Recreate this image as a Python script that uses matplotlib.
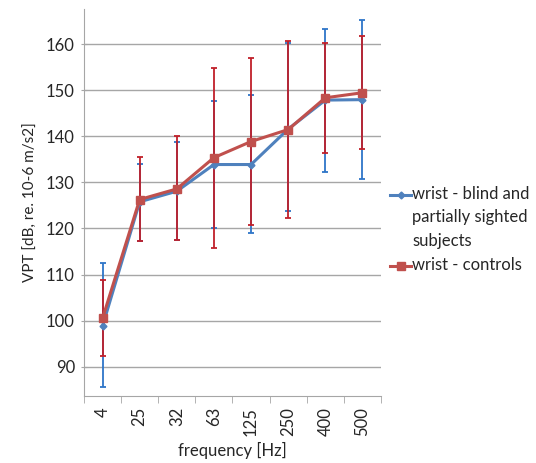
import matplotlib
matplotlib.use("Agg")
import matplotlib.pyplot as plt
from matplotlib.lines import Line2D

plt.rcParams['font.family'] = ['Lato', 'DejaVu Sans']

# categories (frequency in Hz)
freqs = ["4", "25", "32", "63", "125", "250", "400", "500"]

# wrist - blind and partially sighted subjects
blind_mean = [98.8, 125.8, 128.1, 133.9, 133.9, 141.6, 147.9, 148.0]
blind_hi = [112.6, 134.0, 138.9, 147.8, 149.0, 160.4, 163.3, 165.2]
blind_lo = [85.5, 117.3, 117.5, 120.0, 119.0, 123.9, 132.3, 130.7]

# wrist - controls
ctrl_mean = [100.5, 126.3, 128.6, 135.4, 138.9, 141.5, 148.4, 149.5]
ctrl_hi = [108.8, 135.6, 140.1, 154.8, 157.1, 160.8, 160.2, 161.9]
ctrl_lo = [92.3, 117.3, 117.5, 115.8, 120.8, 122.2, 136.3, 137.3]

BLUE = "#4F81BD"
BLUE_ERR = "#2E75C8"
RED = "#C0504D"
RED_ERR = "#C0202A"
GRID = "#A6A6A6"

fig = plt.figure(figsize=(5.36, 4.63), dpi=100)
ax = fig.add_axes([0.1567, 0.1447, 0.5541, 0.8359])

x = list(range(len(freqs)))

def draw_series(mean, lo, hi, color, ecolor, marker, ms):
    yerr = [[m - l for m, l in zip(mean, lo)], [h - m for m, h in zip(mean, hi)]]
    ax.errorbar(x, mean, yerr=yerr, fmt='none', ecolor=ecolor, elinewidth=1.3,
                capsize=2, capthick=1.3, zorder=2)
    ax.plot(x, mean, color=color, lw=2.2, marker=marker, ms=ms, zorder=3)

draw_series(blind_mean, blind_lo, blind_hi, BLUE, BLUE_ERR, 'D', 3.5)
draw_series(ctrl_mean, ctrl_lo, ctrl_hi, RED, RED_ERR, 's', 6)

ax.set_xlim(-0.5, len(freqs) - 0.5)
ax.set_ylim(83.6, 167.7)
ax.set_yticks(range(90, 161, 10))
ax.set_xticks(x)
ax.set_xticklabels(freqs, rotation=90, fontsize=12, color="#262626")
ax.set_xticks([i - 0.5 for i in range(len(freqs) + 1)], minor=True)
ax.tick_params(axis='x', which='major', length=0, pad=8)
ax.tick_params(axis='x', which='minor', length=5, color=GRID, direction='out')
ax.tick_params(axis='y', length=5, color=GRID, direction='inout', labelsize=12,
               labelcolor="#262626", pad=4)
ax.grid(axis='y', color=GRID, lw=1)
ax.set_axisbelow(True)
for s in ['top', 'right']:
    ax.spines[s].set_visible(False)
for s in ['left', 'bottom']:
    ax.spines[s].set_color(GRID)

ax.set_xlabel("frequency [Hz]", fontsize=12, color="#262626", labelpad=4)
ax.set_ylabel("VPT [dB, re. 10-6 m/s2]", fontsize=11, color="#262626", labelpad=6)

# legend drawn by hand so the handle sits on the first text line
def fig_xy(px, py):
    return px / 536, 1 - py / 463

def legend_entry(py, color, marker, ms, text):
    x0, y0 = fig_xy(390, py)
    x1, _ = fig_xy(411, py)
    fig.add_artist(Line2D([x0, x1], [y0, y0], color=color, lw=2.2))
    fig.add_artist(Line2D([(x0 + x1) / 2], [y0], color=color, marker=marker, ms=ms))
    tx, _ = fig_xy(412, py)
    fig.text(tx, y0, text, fontsize=12, color="#262626", va='top',
             linespacing=1.55, transform=fig.transFigure,
             ha='left').set_y(y0 + 0.019)

legend_entry(195, BLUE, 'D', 3.5, "wrist - blind and\npartially sighted\nsubjects")
legend_entry(265.5, RED, 's', 6, "wrist - controls")

fig.savefig("out.png", dpi=100)
